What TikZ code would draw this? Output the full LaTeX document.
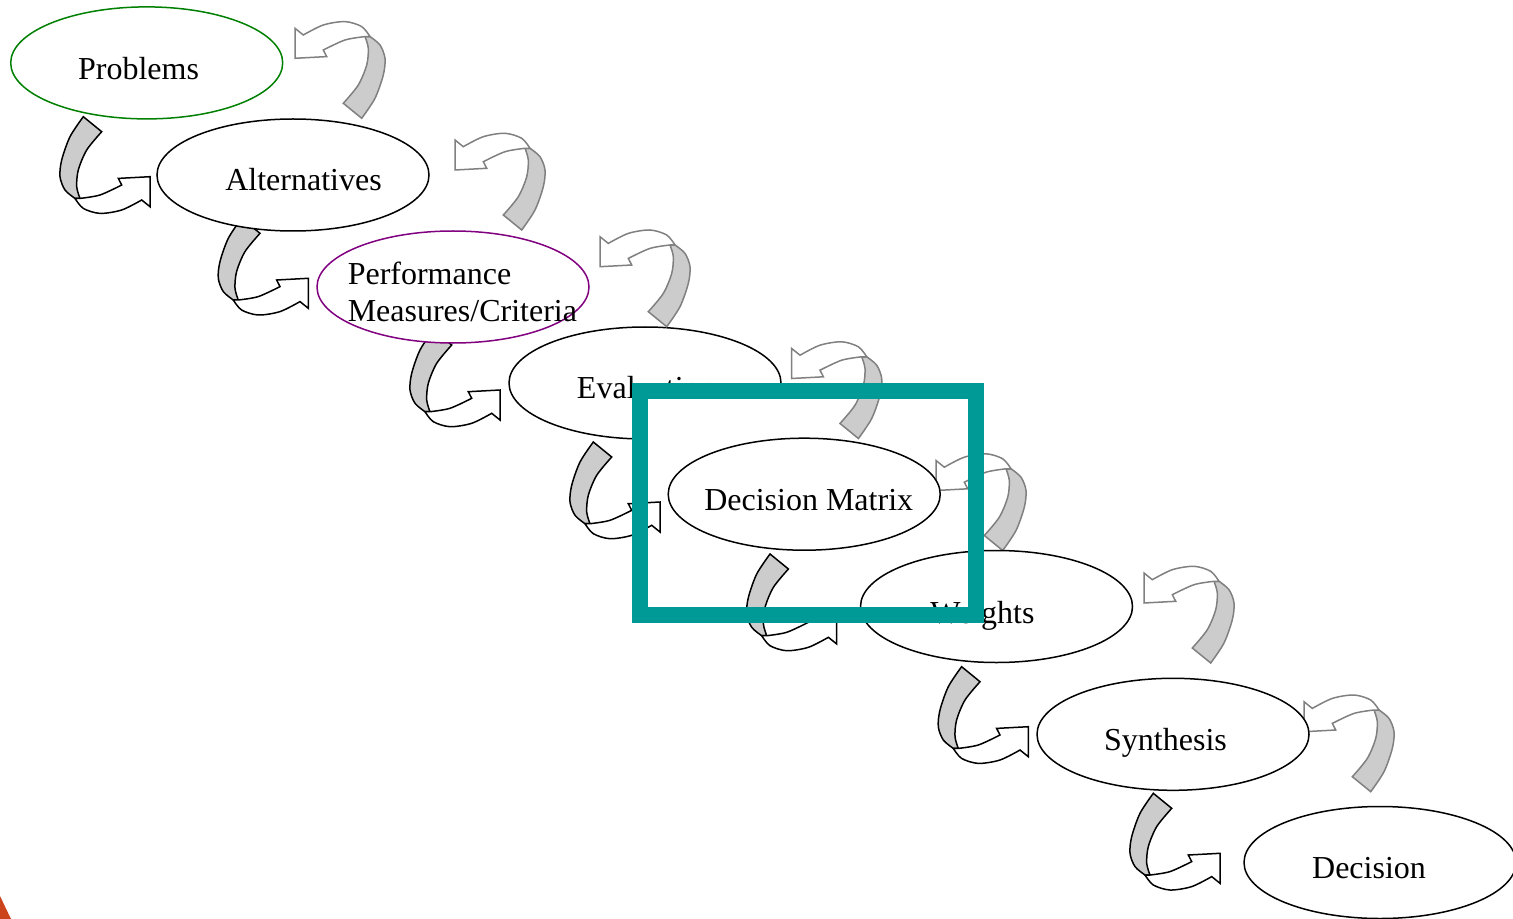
\documentclass[tikz,border=0pt]{standalone}
\usepackage{fontspec}
\setmainfont{Liberation Serif}
\usepackage{xcolor}
\usetikzlibrary{shapes.geometric}

\definecolor{probgreen}{RGB}{0,128,0}
\definecolor{perfpurple}{RGB}{128,0,128}
\definecolor{frameteal}{RGB}{0,154,150}
\definecolor{ribgray}{RGB}{128,128,128}
\definecolor{ribfill}{RGB}{204,204,204}
\definecolor{logored}{RGB}{204,68,28}

\begin{document}
\begin{tikzpicture}[x = 0.5pt, y = -0.5pt, line width = 0.75pt,
  ribbon/.pic = {
    \filldraw [fill = ribfill] plot [smooth] coordinates {(-48.3,-45) (-63.3,-26.7) (-71.7,-6.7) (-73.3,10) (-70,21.7)}
      -- plot [smooth] coordinates {(-75,21.7) (-85,13.3) (-90,0) (-88.3,-16.7) (-80,-40) (-66.7,-60)} -- cycle;
    \filldraw [fill = white] plot [smooth] coordinates {(-75,21.7) (-66.7,31.7) (-50,36.7) (-28.3,33.3) (-8.3,23.3)}
      -- (0,30) -- (0,0) -- (-31.7,1.7) -- (-28.3,8.3)
      -- plot [smooth] coordinates {(-28.3,8.3) (-50,18.3) (-70,21.7)} -- cycle;
  }]
	\tikzstyle{ell} = [ellipse, draw = black, fill = white, minimum width = 136pt, minimum height = 56pt, inner sep = 0pt]
	\tikzstyle{lbl} = [anchor = base, inner sep = 0pt, font = \fontsize{16}{18.5}\selectfont]
	\useasboundingbox (0,0) rectangle (1513,919);
	% evaluation sits under the highlight box
	\node [ell] (eval) at (645,383) {};
	\node [lbl] (eval-t) at ([shift={(1.3,15)}]eval.center) {Evaluation};
	\node [fill = white, inner sep = 0pt, minimum width = 160pt, minimum height = 103.7pt] (hlbg) at (807.7,503) {};
	% forward arrows
	\pic at (150,176.7) {ribbon};
	\pic at (308.3,278.3) {ribbon};
	\pic at (500,390) {ribbon};
	\pic at (660,502) {ribbon};
	\pic at (836.7,614) {ribbon};
	\pic at (1028.3,726.7) {ribbon};
	\pic at (1220,853.3) {ribbon};
	% feedback arrows
	\pic [rotate = 180, color = ribgray] at (295,58.3) {ribbon};
	\pic [rotate = 180, color = ribgray] at (455,170) {ribbon};
	\pic [rotate = 180, color = ribgray] at (600,266.7) {ribbon};
	\pic [rotate = 180, color = ribgray] at (791.7,378.5) {ribbon};
	\pic [rotate = 180, color = ribgray] at (936,490.5) {ribbon};
	\pic [rotate = 180, color = ribgray] at (1144,603) {ribbon};
	\pic [rotate = 180, color = ribgray] at (1304,731.7) {ribbon};
	% steps
	\node [ell, draw = probgreen] (prob) at (146.7,62.9) {};
	\node [ell] (alt) at ([shift={(146.3,112.1)}]prob) {};
	\node [ell, draw = perfpurple] (perf) at ([shift={(160,112)}]alt) {};
	\node [ell] (dm) at ([shift={(159.2,111.2)}]eval) {};
	\node [ell] (wts) at ([shift={(192.3,112.3)}]dm) {};
	\node [ell] (syn) at ([shift={(176.5,127.8)}]wts) {};
	\node [ell] (dec) at ([shift={(207,128.2)}]syn) {};
	\node [lbl] (prob-t) at ([shift={(-8.2,17)}]prob.center) {Problems};
	\node [lbl] (alt-t) at ([shift={(10.5,16)}]alt.center) {Alternatives};
	\node [lbl, anchor = north west, align = left] (perf-t) at ([shift={(-106,-26)}]perf.center) {Performance\\Measures/Criteria};
	\node [lbl] (dm-t) at ([shift={(4.5,16)}]dm.center) {Decision Matrix};
	\node [lbl] (wts-t) at ([shift={(-14,17)}]wts.center) {Weights};
	\node [lbl] (syn-t) at ([shift={(-7.5,16)}]syn.center) {Synthesis};
	\node [lbl] (dec-t) at ([shift={(-11,16)}]dec.center) {Decision};
	% highlight frame
	\node [draw = frameteal, line width = 8pt, inner sep = 0pt, minimum width = 167.9pt, minimum height = 111.85pt] (hl) at (807.6,502.85) {};
	\fill [logored] (0,896) -- (11,919) -- (0,919) -- cycle;
\end{tikzpicture}
\end{document}
